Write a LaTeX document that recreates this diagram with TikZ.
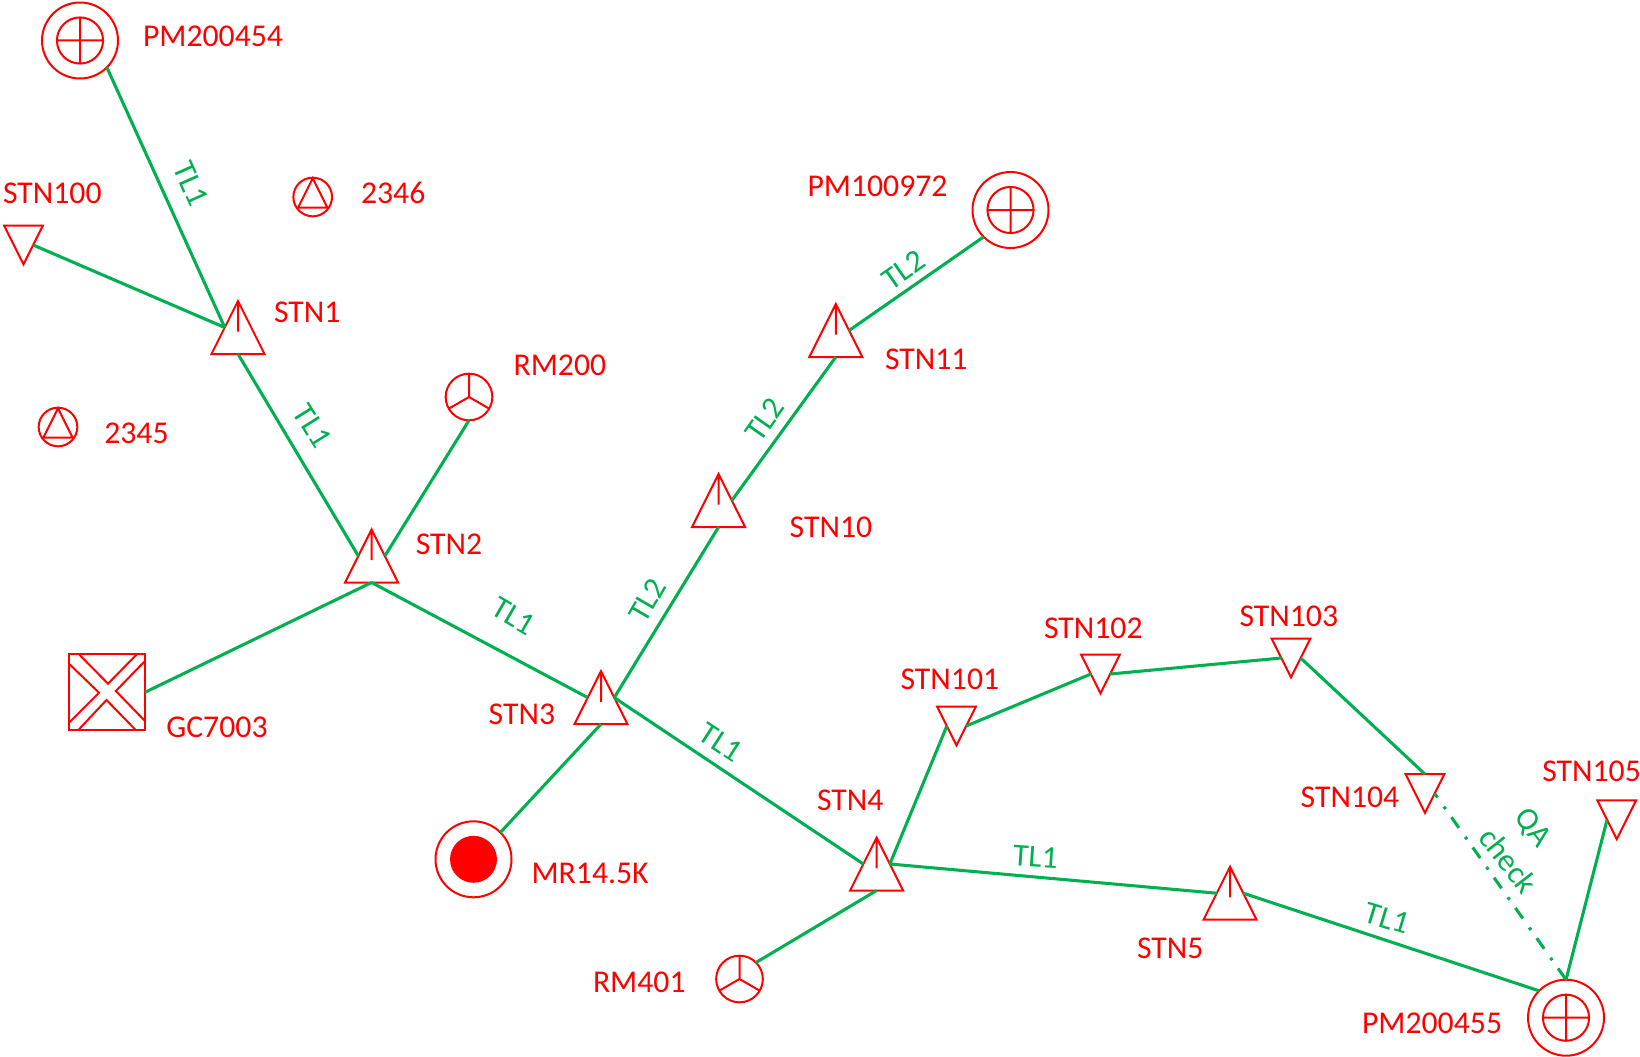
\documentclass[tikz,border=0pt]{standalone}
\usepackage{fontspec}
\setmainfont{Carlito}
\usetikzlibrary{calc}
\definecolor{symred}{HTML}{FF0000}
\definecolor{linegreen}{HTML}{00B050}
\tikzset{
  sym/.style={draw=symred,line width=1.5pt,line join=miter},
  conn/.style={draw=linegreen,line width=2.3pt},
  qaconn/.style={draw=linegreen,line width=2.3pt,dash pattern=on 9.75pt off 8.25pt on 2.25pt off 7.5pt,dash phase=6pt},
  lab/.style={anchor=base west,inner sep=0pt,text=symred,xshift=-0.2pt,yshift=-0.3pt,font=\fontsize{23.8pt}{28pt}\selectfont},
  tl/.style={anchor=center,inner sep=0pt,text=linegreen,font=\fontsize{23.8pt}{28pt}\selectfont},
  upbox/.style={rectangle,inner sep=0pt,outer sep=0pt,yshift=0.75pt,minimum width=39.75pt,minimum height=39.75pt},
  downbox/.style={rectangle,inner sep=0pt,outer sep=0pt,minimum width=29pt,minimum height=29pt},
  ring/.style={circle,inner sep=0pt,outer sep=0pt,draw=symred,line width=1.5pt},
  bigring/.style={ring,minimum size=57pt},
  midring/.style={ring,minimum size=35pt},
  smallring/.style={ring,minimum size=29pt},
}
\newcommand\symUp[3]{%
  \node[upbox] (#1) at (#2,#3) {};
  \coordinate (#1-l) at ($(#1.north)!.5!(#1.south west)$);
  \coordinate (#1-r) at ($(#1.north)!.5!(#1.south east)$);
  \draw[sym] (#1.south west) -- (#1.north) -- (#1.south east) -- cycle
    (#1.north) -- ($(#1.north)!.58!(#1.south)$);
}
\newcommand\symDown[3]{%
  \node[downbox] (#1) at (#2,#3) {};
  \coordinate (#1-l) at ($(#1.south)!.5!(#1.north west)$);
  \coordinate (#1-r) at ($(#1.south)!.5!(#1.north east)$);
  \draw[sym] (#1.north west) -- (#1.north east) -- (#1.south) -- cycle;
}
\newcommand\symPM[3]{%
  \node[bigring] (#1) at (#2,#3) {};
  \draw[sym] (#1.center) circle[radius=17.3pt]
    ($(#1.center)+(-17.3pt,0)$) -- ($(#1.center)+(17.3pt,0)$)
    ($(#1.center)+(0,-17.3pt)$) -- ($(#1.center)+(0,17.3pt)$);
}
\newcommand\symRM[3]{%
  \node[midring] (#1) at (#2,#3) {};
  \draw[sym] (#1.center) -- (#1.north) (#1.center) -- (#1.210) (#1.center) -- (#1.330);
}
\newcommand\symTri[3]{%
  \node[smallring] (#1) at (#2,#3) {};
  \draw[sym] ($(#1.center)+(0,14pt)$) -- ($(#1.center)+(-11pt,-8pt)$) -- ($(#1.center)+(11pt,-8pt)$) -- cycle;
}
\newcommand\lab[4]{\node[lab] (#1) at (#2,#3) {#4};}
\begin{document}
\begin{tikzpicture}[x=0.75pt,y=-0.75pt]
\useasboundingbox (0,-1) rectangle (1640,1055);
% symbols
\symPM{pma}{80}{39.5}
\symPM{pmb}{1010.5}{209}
\symPM{pmc}{1566}{1016.7}
\symUp{stnone}{238}{327.5}
\symUp{stntwo}{371.6}{556}
\symUp{stnthree}{601}{697.6}
\symUp{stnfour}{876.6}{864}
\symUp{stnfive}{1230}{893.2}
\symUp{stnten}{718.6}{500.5}
\symUp{stnel}{835.8}{330.5}
\symDown{stnh}{23.5}{244}
\symDown{stnha}{956.5}{725}
\symDown{stnhb}{1100.5}{673}
\symDown{stnhc}{1291}{657}
\symDown{stnhd}{1425}{792.5}
\symDown{stnhe}{1616.7}{818.8}
\symRM{rma}{469}{396}
\symRM{rmb}{739.5}{978}
\symTri{tria}{58}{426}
\symTri{trib}{312.7}{196}
% generator
\node[rectangle,draw=symred,line width=1.5pt,inner sep=0pt,outer sep=0pt,minimum width=57pt,minimum height=57pt] (gc) at (107,691.3) {};
\draw[sym] (79,653.3) -- (108,682.7) -- (136.8,653.3)
  (69,662.7) -- (99,691.7) -- (69,721.7)
  (78,729.3) -- (106.5,699) -- (136,729.3)
  (145,660) -- (115.8,690) -- (145,720);
% reactor
\node[bigring] (mr) at (473.5,858.3) {};
\fill[symred] (mr.center) circle[radius=17.6pt];
% connectors
\draw[conn] (pma.-45) -- (stnone-l);
\draw[conn] (stnh-r) -- (stnone-l);
\draw[conn] (stnone.south) -- (stntwo-l);
\draw[conn] (rma.south) -- (stntwo-r);
\draw[conn] (gc.east) -- (stntwo.south);
\draw[conn] (stntwo.south) -- (stnthree-l);
\draw[conn] (stnthree.south) -- (mr.45);
\draw[conn] (stnthree-r) -- (stnten.south);
\draw[conn] (stnten-r) -- (stnel.south);
\draw[conn] (stnel-r) -- (pmb.225);
\draw[conn] (stnthree-r) -- (stnfour-l);
\draw[conn] (stnfour.south) -- (rmb.45);
\draw[conn] (stnfour-r) -- (stnha-l);
\draw[conn] (stnha-r) -- (stnhb-l);
\draw[conn] (stnhb-r) -- (stnhc-l);
\draw[conn] (stnhc-r) -- (stnhd.north);
\draw[conn] (stnfour-r) -- (stnfive-l);
\draw[conn] (stnfive-r) -- (pmc.135);
\draw[conn] (stnhe-l) -- (pmc.north);
\draw[qaconn] (stnhd-r) -- (pmc.north);
% symbol labels
\lab{la}{143}{45.3}{PM200454}
\lab{lb}{3}{201.7}{STN100}
\lab{lc}{361}{202.3}{2346}
\lab{ld}{274}{320.7}{STN1}
\lab{le}{104.3}{441.7}{2345}
\lab{lf}{513.6}{374}{RM200}
\lab{lg}{415.8}{553.3}{STN2}
\lab{lh}{807.5}{195}{PM100972}
\lab{li}{885}{368.5}{STN11}
\lab{lj}{789.7}{536.5}{STN10}
\lab{lk}{488.7}{723.3}{STN3}
\lab{ll}{166.3}{736}{GC7003}
\lab{lm}{531.6}{881.7}{MR14.5K}
\lab{ln}{900.6}{688.5}{STN101}
\lab{lo}{1044}{637.5}{STN102}
\lab{lp}{1239.5}{625}{STN103}
\lab{lq}{1300.7}{805.7}{STN104}
\lab{lr}{1542.3}{780}{STN105}
\lab{ls}{817}{809}{STN4}
\lab{lt}{1137}{957.5}{STN5}
\lab{lu}{593}{991}{RM401}
\lab{lv}{1362}{1031.7}{PM200455}
% line labels
\node[tl,rotate=-66] (ta) at (191,183) {TL1};
\node[tl,rotate=-58] (tb) at (312.5,424.7) {TL1};
\node[tl,rotate=-30] (tc) at (513.6,615) {TL1};
\node[tl,rotate=60] (td) at (647.5,599.4) {TL2};
\node[tl,rotate=55] (te) at (764.6,418.4) {TL2};
\node[tl,rotate=35] (tf) at (903.7,268.8) {TL2};
\node[tl,rotate=-33] (tg) at (720.7,741.6) {TL1};
\node[tl,rotate=-4] (th) at (1035.5,855.6) {TL1};
\node[tl,rotate=-17] (ti) at (1387,917.3) {TL1};
\node[tl,rotate=-52] (tj) at (1532,827.4) {QA};
\node[tl,rotate=-52] (tk) at (1508.5,859.5) {check};
\end{tikzpicture}
\end{document}
